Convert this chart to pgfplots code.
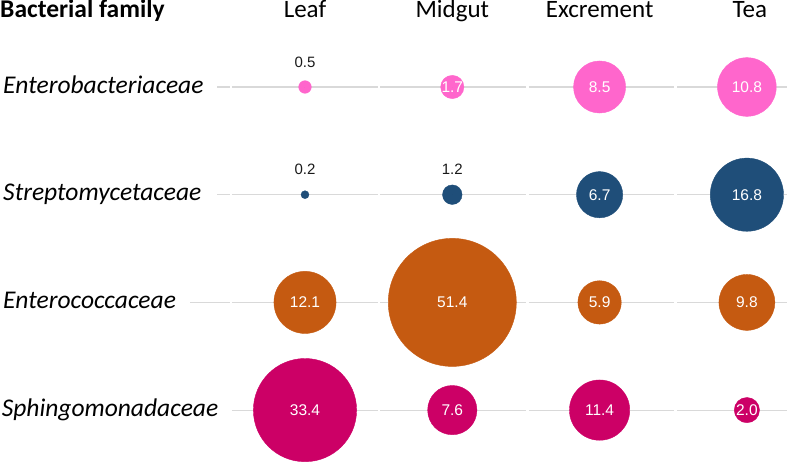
\documentclass[border=0pt]{standalone}
\usepackage{pgfplots}
\usepackage{pgfplotstable}
\pgfplotsset{compat=1.18}
\usepackage{fontspec}
\setmainfont{Carlito}
\newfontfamily\arialf{Liberation Sans}
\definecolor{cpink}{HTML}{FF66CC}
\definecolor{cblue}{HTML}{1F4E79}
\definecolor{corange}{HTML}{C55A11}
\definecolor{cmag}{HTML}{CC0066}
\definecolor{cline}{HTML}{D9D9D9}
% x: 1=Leaf 2=Midgut 3=Excrement 4=Tea ; y: row (family) ; out=1 -> label above
\pgfplotstableread{
x y v out
1 1 0.5 1
2 1 1.7 0
3 1 8.5 0
4 1 10.8 0
1 2 0.2 1
2 2 1.2 1
3 2 6.7 0
4 2 16.8 0
1 3 12.1 0
2 3 51.4 0
3 3 5.9 0
4 3 9.8 0
1 4 33.4 0
2 4 7.6 0
3 4 11.4 0
4 4 2.0 0
}\data
\pgfplotsset{
  bub/.style={scatter, only marks, mark=*, point meta=\thisrow{v},
    scatter/use mapped color={draw=#1, fill=#1},
    visualization depends on={8.93*sqrt(\thisrow{v}) \as \perpointmarksize},
    scatter/@pre marker code/.append style={/tikz/mark size=\perpointmarksize}},
  lab/.style={only marks, mark=*, mark size=0pt, mark options={draw=none,fill=none},
    point meta=\thisrow{v},
    nodes near coords={\pgfmathprintnumber[fixed,fixed zerofill,precision=1,assume math mode=true]{\pgfplotspointmeta}}},
}
\begin{document}
\begin{tikzpicture}
\begin{axis}[
  width=787pt, height=465pt, scale only axis,
  xmin=-1.0706, xmax=4.2723, ymin=0.1922, ymax=4.5097, y dir=reverse,
  hide axis, clip=false]
% row lines
\draw[cline, line width=1.2pt] (axis cs:0.4026,1) -- (axis cs:0.4908,1);
\draw[cline, line width=1.2pt] (axis cs:0.4026,2) -- (axis cs:0.4908,2);
\draw[cline, line width=1.2pt] (axis cs:0.2193,3) -- (axis cs:0.4908,3);
\pgfplotsinvokeforeach{1,2,3,4}{
  \draw[cline, line width=1.2pt] (axis cs:0.5044,#1) -- (axis cs:1.4956,#1);
  \draw[cline, line width=1.2pt] (axis cs:1.5092,#1) -- (axis cs:2.5003,#1);
  \draw[cline, line width=1.2pt] (axis cs:2.5207,#1) -- (axis cs:3.5051,#1);
  \draw[cline, line width=1.2pt] (axis cs:3.5255,#1) -- (axis cs:4.2723,#1);
}
\addplot[bub=cpink, restrict y to domain=1:1] table {\data};
\addplot[bub=cblue, restrict y to domain=2:2] table {\data};
\addplot[bub=corange, restrict y to domain=3:3] table {\data};
\addplot[bub=cmag, restrict y to domain=4:4] table {\data};
% labels inside
\addplot[lab, restrict expr to domain={\thisrow{out}}{0:0},
  nodes near coords style={anchor=center, text=white, inner sep=0pt, font=\arialf\fontsize{15.5}{18}\selectfont}]
  table {\data};
% labels above
\addplot[lab, restrict expr to domain={\thisrow{out}}{1:1},
  nodes near coords style={anchor=center, yshift=25pt, text=black!90, inner sep=0pt, font=\arialf\fontsize{15}{18}\selectfont}]
  table {\data};
% headers
\node[anchor=base west, inner sep=0pt, font=\bfseries\fontsize{25.5}{28}\selectfont] at (axis cs:-1.0706,0.3593) {Bacterial family};
\node[anchor=base, inner sep=0pt, font=\fontsize{25}{28}\selectfont] at (axis cs:1,0.3593) {Leaf};
\node[anchor=base, inner sep=0pt, font=\fontsize{25}{28}\selectfont] at (axis cs:2,0.3593) {Midgut};
\node[anchor=base, inner sep=0pt, font=\fontsize{25}{28}\selectfont] at (axis cs:3,0.3593) {Excrement};
\node[anchor=base, inner sep=0pt, font=\fontsize{25}{28}\selectfont] at (axis cs:4.02,0.3593) {Tea};
\node[anchor=base west, inner sep=0pt, font=\itshape\fontsize{25.5}{28}\selectfont] at (axis cs:-1.05,1.056) {Enterobacteriaceae};
\node[anchor=base west, inner sep=0pt, font=\itshape\fontsize{25.5}{28}\selectfont] at (axis cs:-1.05,2.056) {Streptomycetaceae};
\node[anchor=base west, inner sep=0pt, font=\itshape\fontsize{25.5}{28}\selectfont] at (axis cs:-1.05,3.056) {Enterococcaceae};
\node[anchor=base west, inner sep=0pt, font=\itshape\fontsize{25.5}{28}\selectfont] at (axis cs:-1.06,4.056) {Sphingomonadaceae};
\end{axis}
\pgfresetboundingbox
\useasboundingbox (current axis.south west) rectangle (current axis.north east);
\end{tikzpicture}
\end{document}
